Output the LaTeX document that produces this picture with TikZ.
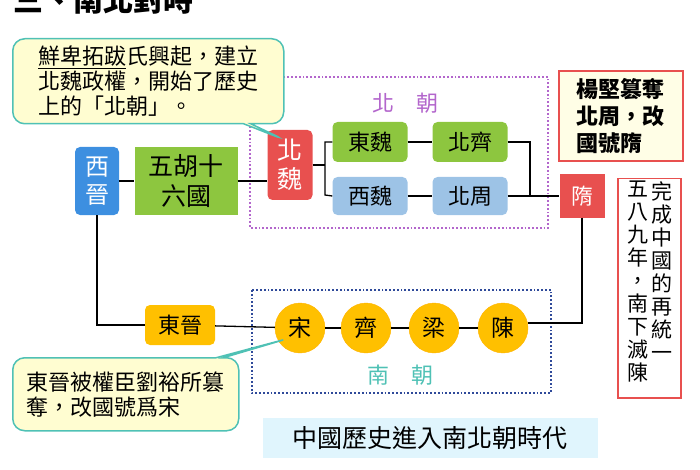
\documentclass[tikz,border=0pt]{standalone}
\usepackage{fontspec}
\setmainfont{Noto Sans CJK TC}
\usetikzlibrary{shapes.callouts}
\definecolor{cblue}{HTML}{3D8FE0}
\definecolor{cgreen}{HTML}{8DC63F}
\definecolor{cred}{HTML}{E8504F}
\definecolor{clblue}{HTML}{9DC3E6}
\definecolor{cyel}{HTML}{FFC000}
\definecolor{cteal}{HTML}{4FC1B5}
\definecolor{cpurp}{HTML}{B366CC}
\definecolor{cnavy}{HTML}{2F4A9A}
\begin{document}
\begin{tikzpicture}[x=1pt,y=-1pt,
  bx/.style={rounded corners=5pt,minimum width=#1,font=\fontsize{22}{24}\selectfont},
  bx/.default=75pt,
  circ/.style={circle,fill=cyel,draw=cyel!80!orange,minimum size=50pt,inner sep=0pt,font=\fontsize{23}{24}\selectfont},
  ln/.style={line width=1.3pt,black},
  call/.style={rectangle callout,rounded corners=12pt,draw=cteal,line width=1.5pt,fill=yellow!18,align=left,inner sep=5pt,font=\fontsize{22}{25}\selectfont}]
\useasboundingbox (0,0) rectangle (700,470);
\begin{scope}
\clip (0,0) rectangle (700,470);
\node[anchor=base west,font=\fontsize{30}{32}\bfseries\selectfont] (title) at (10,12) {三、南北對時};
\end{scope}
% dotted boxes
\draw[cpurp,dotted,line width=1.8pt] (250,77) rectangle (548,228);
\node[text=cpurp,font=\fontsize{22}{22}\selectfont] (bc) at (405,103) {北\hspace{1em}朝};
\draw[cnavy,dotted,line width=1.8pt] (252,290) rectangle (551,393);
\node[text=cteal,font=\fontsize{22}{22}\selectfont] (nc) at (400,375) {南\hspace{1em}朝};
% nodes
\node[bx=44pt,minimum height=68pt,fill=cblue,text=white,align=center,inner sep=1pt,font=\fontsize{24}{28}\selectfont] (xj) at (97,181) {西\\晉};
\node[bx=103pt,rounded corners=0pt,minimum height=68pt,fill=cgreen,align=center,font=\fontsize{25}{30}\selectfont] (wh) at (186,181) {五胡十\\六國};
\node[bx=45pt,minimum height=70pt,fill=cred,text=white,align=center,inner sep=1pt,font=\fontsize{25}{29}\selectfont] (bw) at (290,165) {北\\魏};
\node[bx,minimum height=40pt,fill=cgreen] (dw) at (370,142) {東魏};
\node[bx,minimum height=40pt,fill=cgreen] (bq) at (470,142) {北齊};
\node[bx,minimum height=38pt,fill=clblue] (xw) at (370,196) {西魏};
\node[bx,minimum height=38pt,fill=clblue] (bz) at (470,196) {北周};
\node[bx=45pt,rounded corners=0pt,minimum height=43pt,fill=cred,text=white] (sui) at (582,196) {隋};
\node[bx=70pt,minimum height=40pt,fill=cyel] (dj) at (180,325) {東晉};
\node[circ] (song) at (300,328) {宋};
\node[circ] (qi) at (366,328) {齊};
\node[circ] (liang) at (434,328) {梁};
\node[circ] (chen) at (503,328) {陳};
\coordinate (c1) at (582,323);
\coordinate (c2) at (97,325);
\coordinate (c3) at (325,142);
\coordinate (c4) at (325,195);
\coordinate (c5) at (530,142);
% connectors
\draw[ln] (xj) -- (wh);
\draw[ln] (wh.east) -- (bw.west|-wh.east);
\draw[ln] (dw.west) -| (c3) -- (c4) -- (xw.west);
\draw[ln] (bw.east) -- (bw.east-|c3);
\draw[ln] (dw) -- (bq);
\draw[ln] (xw) -- (bz);
\draw[ln] (bq.east) -- (c5) |- (bz.east -| c5);
\draw[ln] (bz) -- (sui);
\draw[ln] (sui) |- (c1) -- (chen.east|-c1);
\draw[ln] (xj) -- (c2) -- (dj.west|-c2);
\draw[ln] (dj) -- (song);
\draw[ln] (song) -- (qi);
\draw[ln] (qi) -- (liang);
\draw[ln] (liang) -- (chen);
% callouts
\node[call,callout absolute pointer={(285,140)},anchor=north west,minimum width=271pt,minimum height=85pt] (co1) at (12,38)
  {\underline{鮮卑拓跋}氏興起，建立\\北魏政權，開始了歷史\\上的「北朝」。};
\node[call,callout absolute pointer={(290,338)},anchor=north west,minimum width=226pt,minimum height=73pt] (co2) at (12,357)
  {東晉被權臣劉裕所篡\\奪，改國號爲宋};
% side boxes
\node[draw=cred,line width=1.8pt,fill=yellow!10,anchor=north west,minimum width=124pt,minimum height=90pt,align=left,inner sep=4pt,font=\fontsize{22}{27}\bfseries\selectfont] (yj) at (558,70) {楊堅篡奪\\北周，改\\國號隋};
\node[draw=cred,line width=1.5pt,fill=white,anchor=north west,minimum width=63pt,minimum height=219pt] (vb) at (617,178) {};
\node[anchor=north,align=center,inner sep=0pt,font=\fontsize{21}{23}\selectfont] (vr) at (662,181) {完\\成\\中\\國\\的\\再\\統\\一};
\node[anchor=north,align=center,inner sep=0pt,font=\fontsize{21}{23}\selectfont] (vl) at (638,181) {五\\八\\九\\年\\，\\南\\下\\滅\\陳};
% bottom
\node[fill=cyan!12,minimum width=335pt,minimum height=40pt,font=\fontsize{25}{26}\selectfont] (bt) at (430,438) {中國歷史進入南北朝時代};
\end{tikzpicture}
\end{document}
